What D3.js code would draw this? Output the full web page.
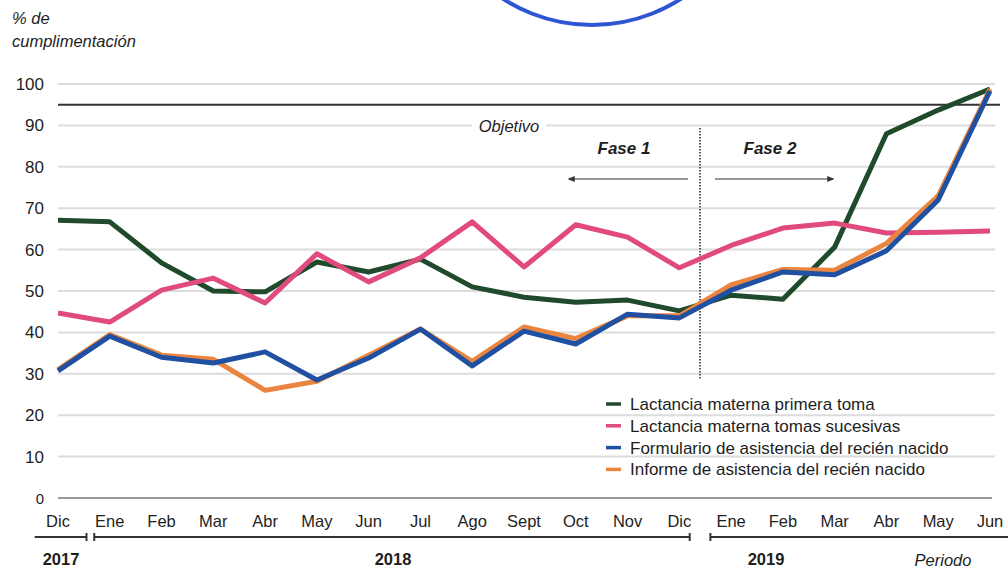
<!DOCTYPE html>
<html lang="es">
<head>
<meta charset="UTF-8">
<title>Cumplimentación</title>
<style>
  body { margin: 0; background: #fff; }
  text { font-family: "Liberation Sans", Arial, sans-serif; fill: #1e1e1e; }
</style>
<script src="https://d3js.org/d3.v7.min.js"></script>
</head>
<body>
<script>
// month labels (Dic 2017 .. Jun 2019)
const months = ["Dic","Ene","Feb","Mar","Abr","May","Jun","Jul","Ago","Sept","Oct","Nov","Dic","Ene","Feb","Mar","Abr","May","Jun"];
const yTicks = [0,10,20,30,40,50,60,70,80,90,100];

// series
const primeraToma = [67.1,66.7,56.8,50,49.8,57,54.6,57.7,51,48.5,47.3,47.8,45.2,49,48,60.6,88,93.7,98.8];
const tomasSucesivas = [44.7,42.5,50.2,53.1,47.1,59,52.2,58,66.7,55.8,66,63,55.6,61,65.2,66.4,64,64.2,64.5];
const formulario = [30.7,39.1,34,32.6,35.3,28.5,33.8,40.8,31.9,40.3,37.2,44.4,43.5,50.2,54.6,53.9,59.7,72,98.3];
const informe = [31,39.5,34.5,33.5,26,28.2,34.5,40.8,33,41.3,38.5,44,44,51.5,55.2,55,61.5,73,98.8];

const objetivo = 95;
const faseSplit = 12.4;   // between Dic 2018 and Ene 2019

const series = [
  {name: "Lactancia materna primera toma", values: primeraToma, color: "#1f4a2c"},
  {name: "Lactancia materna tomas sucesivas", values: tomasSucesivas, color: "#e04a7c"},
  {name: "Informe de asistencia del recién nacido", values: informe, color: "#ea843e"},
  {name: "Formulario de asistencia del recién nacido", values: formulario, color: "#1f50a2"}
];
const legendOrder = ["Lactancia materna primera toma","Lactancia materna tomas sucesivas","Formulario de asistencia del recién nacido","Informe de asistencia del recién nacido"];
const years = [
  {label: "2017", from: -0.45, to: 0.55, tx: 61},
  {label: "2018", from: 0.7, to: 12.2, tx: 393},
  {label: "2019", from: 12.6, to: 18.35, tx: 766}
];

const W = 1008, H = 568;
const svg = d3.select("body").append("svg").attr("width", W).attr("height", H);

const x = d3.scaleLinear().domain([0, months.length - 1]).range([58, 990]);
const y = d3.scaleLinear().domain([0, 100]).range([498, 84]);

// stamp arc at top
svg.append("circle")
  .attr("cx", 592).attr("cy", -139).attr("r", 164)
  .attr("fill", "none").attr("stroke", "#2f55d4").attr("stroke-width", 4);

// gridlines
svg.append("g").selectAll("line")
  .data(yTicks.filter(d => d > 0))
  .join("line")
  .attr("x1", x(0)).attr("x2", 995)
  .attr("y1", d => y(d)).attr("y2", d => y(d))
  .attr("stroke", "#dcdcdc").attr("stroke-width", 2);

svg.append("line")
  .attr("x1", x(0)).attr("x2", 992)
  .attr("y1", y(0)).attr("y2", y(0))
  .attr("stroke", "#777").attr("stroke-width", 1.5);

// y labels
svg.append("g").selectAll("text")
  .data(yTicks)
  .join("text")
  .attr("x", 44).attr("y", d => y(d) + 6)
  .attr("text-anchor", "end")
  .style("font-size", d => d === 0 ? "15px" : "17px")
  .text(d => d);

// axis title
svg.append("text").attr("x", 12).attr("y", 24).style("font-size", "16.5px").style("font-style", "italic").text("% de");
svg.append("text").attr("x", 12).attr("y", 47).style("font-size", "16.5px").style("font-style", "italic").text("cumplimentación");

// objetivo line
svg.append("line")
  .attr("x1", x(0)).attr("x2", 1000)
  .attr("y1", y(objetivo)).attr("y2", y(objetivo))
  .attr("stroke", "#333").attr("stroke-width", 2);

svg.append("rect").attr("x", 472).attr("y", 116).attr("width", 74).attr("height", 19).attr("fill", "#fff");
svg.append("text").attr("x", 509).attr("y", 132)
  .attr("text-anchor", "middle")
  .style("font-size", "16.5px").style("font-style", "italic")
  .text("Objetivo");

// phase divider
svg.append("line")
  .attr("x1", x(faseSplit)).attr("x2", x(faseSplit))
  .attr("y1", 128).attr("y2", y(28.5))
  .attr("stroke", "#333").attr("stroke-width", 1.6)
  .attr("stroke-dasharray", "1.5,1.5");

svg.append("text").attr("x", 624).attr("y", 154).attr("text-anchor", "middle")
  .style("font-size", "17px").style("font-weight", "bold").style("font-style", "italic").text("Fase 1");
svg.append("text").attr("x", 770).attr("y", 154).attr("text-anchor", "middle")
  .style("font-size", "17px").style("font-weight", "bold").style("font-style", "italic").text("Fase 2");

const defs = svg.append("defs");
defs.append("marker").attr("id", "arr")
  .attr("viewBox", "0 0 10 10").attr("refX", 8).attr("refY", 5)
  .attr("markerWidth", 6).attr("markerHeight", 6).attr("orient", "auto-start-reverse")
  .append("path").attr("d", "M0,1 L10,5 L0,9 z").attr("fill", "#333");

svg.append("line").attr("x1", 688).attr("x2", 569).attr("y1", 179).attr("y2", 179)
  .attr("stroke", "#333").attr("stroke-width", 1.2).attr("marker-end", "url(#arr)");
svg.append("line").attr("x1", 715).attr("x2", 833).attr("y1", 179).attr("y2", 179)
  .attr("stroke", "#333").attr("stroke-width", 1.2).attr("marker-end", "url(#arr)");

// series lines
const line = d3.line().x((d, i) => x(i)).y(d => y(d));
svg.append("g").selectAll("path")
  .data(series)
  .join("path")
  .attr("d", d => line(d.values))
  .attr("fill", "none")
  .attr("stroke", d => d.color)
  .attr("stroke-width", 5)
  .attr("stroke-linejoin", "round");

// legend
const colorOf = Object.fromEntries(series.map(s => [s.name, s.color]));
const lg = svg.append("g").selectAll("g")
  .data(legendOrder)
  .join("g")
  .attr("transform", (d, i) => `translate(606, ${404 + i * 21.8})`);
lg.append("line").attr("x1", 0).attr("x2", 15).attr("y1", 0).attr("y2", 0)
  .attr("stroke", d => colorOf[d]).attr("stroke-width", 3.5);
lg.append("text").attr("x", 24).attr("y", 6).style("font-size", "17px").text(d => d);

// x labels
svg.append("g").selectAll("text")
  .data(months)
  .join("text")
  .attr("x", (d, i) => x(i)).attr("y", 527)
  .attr("text-anchor", "middle")
  .style("font-size", "16.5px")
  .text(d => d);

// year brackets
const yb = svg.append("g").selectAll("g").data(years).join("g");
yb.append("line")
  .attr("x1", d => x(d.from)).attr("x2", d => x(d.to))
  .attr("y1", 537).attr("y2", 537)
  .attr("stroke", "#333").attr("stroke-width", 2);
yb.filter((d, i) => i > 0).append("line")
  .attr("x1", d => x(d.from)).attr("x2", d => x(d.from))
  .attr("y1", 533).attr("y2", 541).attr("stroke", "#333").attr("stroke-width", 2);
yb.filter((d, i) => i < years.length - 1).append("line")
  .attr("x1", d => x(d.to)).attr("x2", d => x(d.to))
  .attr("y1", 533).attr("y2", 541).attr("stroke", "#333").attr("stroke-width", 2);
yb.append("text")
  .attr("x", d => d.tx).attr("y", 565)
  .attr("text-anchor", "middle")
  .style("font-size", "16.5px").style("font-weight", "bold")
  .text(d => d.label);

svg.append("text").attr("x", 943).attr("y", 566).attr("text-anchor", "middle")
  .style("font-size", "16.5px").style("font-style", "italic").text("Periodo");
</script>
</body>
</html>
